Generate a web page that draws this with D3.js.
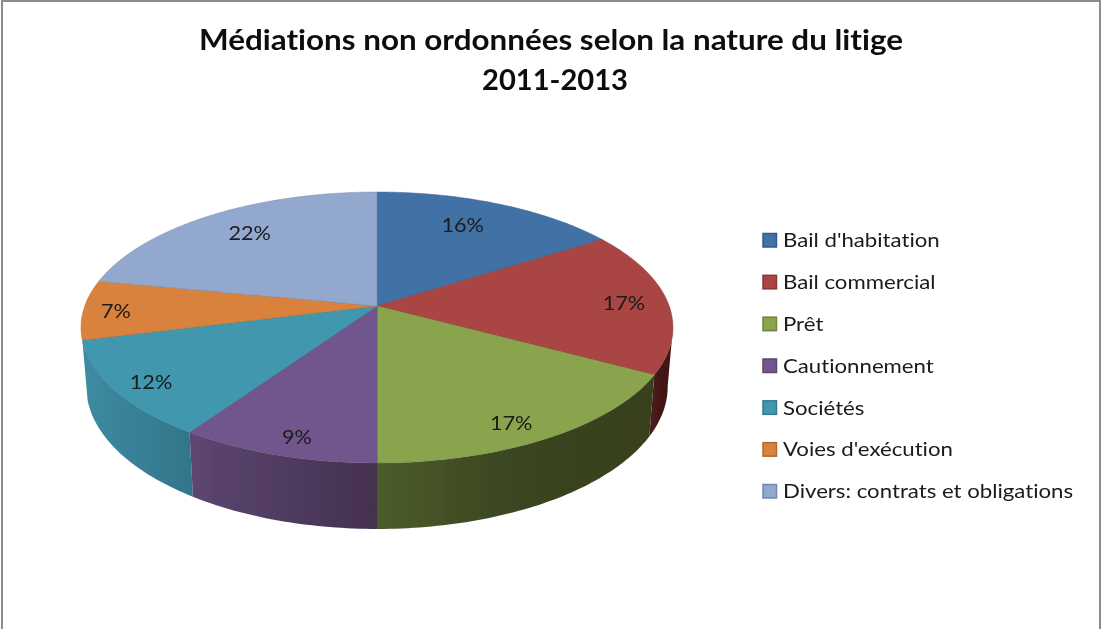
<!DOCTYPE html>
<html>
<head>
<meta charset="utf-8">
<script src="https://d3js.org/d3.v7.min.js"></script>
<style>
  body { margin: 0; background: #fff; }
  svg { display: block; }
  text { font-family: Lato, "Open Sans", sans-serif; fill: #1a1a1a; font-variant-ligatures: none; }
</style>
</head>
<body>
<svg id="chart" width="1101" height="629"></svg>
<script>
var title_lines = ["Médiations non ordonnées selon la nature du litige", "2011-2013"];
var title_widths = [704, 146];
var categories = ["Bail d'habitation", "Bail commercial", "Prêt", "Cautionnement", "Sociétés", "Voies d'exécution", "Divers: contrats et obligations"];
// slice sizes read from the rim, the labels show them rounded
var percents = [15.8, 17.2, 17, 9.4, 11.6, 7.1, 21.9];
var colors = ["#4371a6", "#a94543", "#89a44e", "#70578c", "#3f97ae", "#d9823c", "#92a8ce"];

// where each % label sits inside its slice (fraction of radius, degrees off the middle)
var label_radius = [0.76, 0.85, 0.87, 0.88, 0.88, 0.89, 0.78];
var label_shift = [-3.1, 0, 3, -1.3, -1, 0, 1.6];

// side wall shading, left to right, keyed by slice index (only these slices show a wall)
var wall_stops = {
  1: ["#4a1b1b", "#3f1616"],
  2: ["#4d5c2b", "#3a4520", "#37401d"],
  3: ["#5c4672", "#44314f"],
  4: ["#3d8ba3", "#32758a"]
};

// perspective of the disc: unit circle (u, v) to screen
var cx = 377, half_w = 292.2, persp = -0.1587;
var top_a = 83.5, top_b = 306;
var low_w = 287, low_a = 80.9, low_b = 364.1;
// part of the rim that shows a wall
var wall_from = 99, wall_to = 262;
// the reference text is wider than Lato
var text_stretch = 1.11;

function project(deg, r, w, a, b)
{
  let t = deg * Math.PI / 180;
  let u = r * Math.sin(t);
  let v = -r * Math.cos(t);
  let d = 1 + persp * v;
  return [cx + w * u / d, (a * v + b) / d];
}
function top_pt(deg, r) { return project(deg, r === undefined ? 1 : r, half_w, top_a, top_b); }
function low_pt(deg) { return project(deg, 1, low_w, low_a, low_b); }
function degs(from, to)
{
  let list = d3.range(from, to, 1);
  list.push(to);
  return list;
}
function stretch(sel)
{
  sel.attr("lengthAdjust", "spacingAndGlyphs")
    .attr("textLength", function() { return this.getComputedTextLength() * text_stretch; });
}

var svg = d3.select("#chart");
var line = d3.line();
var color = d3.scaleOrdinal().domain(categories).range(colors);

var defs = svg.append("defs");
defs.append("filter").attr("id", "soft")
  .attr("filterUnits", "userSpaceOnUse")
  .attr("x", 0).attr("y", 0)
  .attr("width", 1101).attr("height", 629)
  .append("feGaussianBlur").attr("stdDeviation", 0.45);
var root = svg.append("g").attr("filter", "url(#soft)");

var arcs = d3.pie().sort(null).value(function(d) { return d; })(percents).map(function(a, i) {
  return {
    name: categories[i],
    value: a.value,
    index: i,
    start: a.startAngle * 180 / Math.PI,
    end: a.endAngle * 180 / Math.PI
  };
});

// frame, no bottom edge
root.append("path")
  .attr("d", line([[2, 632], [2, 1], [1100, 1], [1100, 632]]))
  .attr("fill", "none")
  .attr("stroke", "#8c8c8c")
  .attr("stroke-width", 2);

// walls, outer ones first so the nearer ones cover them
var walls = arcs.filter(function(d) { return wall_stops[d.index]; })
  .sort(function(a, b) { return Math.abs((b.start + b.end) / 2 - 180) - Math.abs((a.start + a.end) / 2 - 180); });

walls.forEach(function(d) {
  let from = Math.max(d.start, wall_from);
  let to = Math.min(d.end, wall_to);
  let upper = degs(from, to).map(function(a) { return top_pt(a); });
  let lower = degs(from, to).reverse().map(function(a) { return low_pt(a); });
  let stops = wall_stops[d.index];
  let xs = upper.concat(lower).map(function(p) { return p[0]; });
  let grad = defs.append("linearGradient")
    .attr("id", "wall" + d.index)
    .attr("gradientUnits", "userSpaceOnUse")
    .attr("x1", d3.min(xs)).attr("x2", d3.max(xs))
    .attr("y1", 0).attr("y2", 0);
  stops.forEach(function(s, i) {
    grad.append("stop").attr("offset", i / (stops.length - 1)).attr("stop-color", s);
  });
  root.append("path")
    .attr("d", line(upper.concat(lower)) + "Z")
    .attr("fill", "url(#wall" + d.index + ")");
});

// top of the pie
root.selectAll(".slice")
  .data(arcs)
  .enter()
  .append("path")
  .classed("slice", true)
  .attr("d", function(d) {
    let rim = degs(d.start, d.end).map(function(a) { return top_pt(a); });
    return line([top_pt(0, 0)].concat(rim)) + "Z";
  })
  .attr("fill", function(d) { return color(d.name); })
  .attr("stroke", function(d) { return d3.color(color(d.name)).darker(0.5); })
  .attr("stroke-width", 0.5);

// % labels
root.selectAll(".pct")
  .data(arcs)
  .enter()
  .append("text")
  .classed("pct", true)
  .attr("x", function(d, i) { return top_pt((d.start + d.end) / 2 + label_shift[i], label_radius[i])[0]; })
  .attr("y", function(d, i) { return top_pt((d.start + d.end) / 2 + label_shift[i], label_radius[i])[1]; })
  .attr("dy", "0.42em")
  .attr("text-anchor", "middle")
  .attr("font-size", 19.5)
  .text(function(d) { return Math.round(d.value) + "%"; })
  .call(stretch);

// legend
var legend_y = d3.scalePoint().domain(categories).range([240, 491]);
var legend = root.selectAll(".legend")
  .data(categories)
  .enter()
  .append("g")
  .classed("legend", true)
  .attr("transform", function(d) { return "translate(0," + legend_y(d) + ")"; });

legend.append("rect")
  .attr("x", 763).attr("y", -6.5)
  .attr("width", 13.5).attr("height", 13.5)
  .attr("fill", function(d) { return color(d); })
  .attr("stroke", function(d) { return d3.color(color(d)).darker(0.6); })
  .attr("stroke-width", 1.5);

legend.append("text")
  .attr("x", 783)
  .attr("dy", "0.36em")
  .attr("font-size", 20)
  .text(function(d) { return d; })
  .call(stretch);

// title
root.selectAll(".title")
  .data(title_lines)
  .enter()
  .append("text")
  .classed("title", true)
  .attr("x", function(d, i) { return i === 0 ? 551 : 555; })
  .attr("y", function(d, i) { return 50 + i * 40; })
  .attr("text-anchor", "middle")
  .attr("font-size", 28)
  .attr("font-weight", "bold")
  .attr("textLength", function(d, i) { return title_widths[i]; })
  .attr("lengthAdjust", "spacingAndGlyphs")
  .style("fill", "#111")
  .text(function(d) { return d; });
</script>
</body>
</html>
